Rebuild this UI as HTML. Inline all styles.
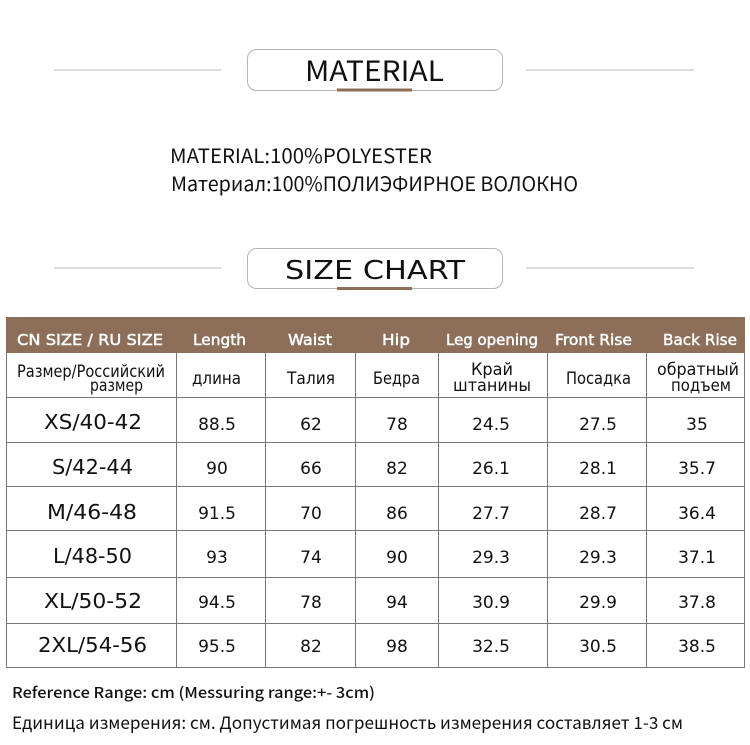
<!DOCTYPE html>
<html><head><meta charset="utf-8"><style>
html,body{margin:0;padding:0;background:#fff;}
svg{display:block;}
</style></head><body>
<svg width="750" height="745" viewBox="0 0 750 745" xmlns="http://www.w3.org/2000/svg">
<rect width="750" height="745" fill="#fff"/>
<!-- MATERIAL heading -->
<line x1="54" y1="70" x2="221" y2="70" stroke="#b8b8b8" stroke-width="1"/>
<line x1="526" y1="70" x2="694" y2="70" stroke="#b8b8b8" stroke-width="1"/>
<rect x="247.5" y="49.5" width="255" height="41" rx="9" fill="#fff" stroke="#b5b5b5" stroke-width="1"/>
<rect x="337" y="88.5" width="75" height="3" fill="#8d6e58"/>
<text x="305" y="81" font-family="Noto Sans CJK SC, DejaVu Sans, sans-serif" font-size="28" fill="#111" textLength="139" lengthAdjust="spacingAndGlyphs">MATERIAL</text>

<text x="170" y="163" font-family="Noto Sans CJK SC, Liberation Sans, sans-serif" font-size="20" fill="#111" textLength="262" lengthAdjust="spacingAndGlyphs">MATERIAL:100%POLYESTER</text>
<text x="171" y="191" font-family="Noto Sans CJK SC, Liberation Sans, sans-serif" font-size="20" fill="#111" textLength="407" lengthAdjust="spacingAndGlyphs">Материал:100%ПОЛИЭФИРНОЕ ВОЛОКНО</text>

<!-- SIZE CHART heading -->
<line x1="54" y1="268" x2="221" y2="268" stroke="#b8b8b8" stroke-width="1"/>
<line x1="526" y1="268" x2="694" y2="268" stroke="#b8b8b8" stroke-width="1"/>
<rect x="247.5" y="248.5" width="255" height="40" rx="9" fill="#fff" stroke="#b5b5b5" stroke-width="1"/>
<rect x="337" y="287" width="75" height="3" fill="#8d6e58"/>
<text x="285" y="279" font-family="DejaVu Sans, sans-serif" font-size="26" fill="#111" textLength="180" lengthAdjust="spacingAndGlyphs">SIZE CHART</text>

<!-- Table header -->
<rect x="6" y="317" width="739" height="36" fill="#8d6e58"/>
<g font-family="DejaVu Sans, sans-serif" font-size="15.5" fill="#fff">
<text x="17" y="345" textLength="146" lengthAdjust="spacingAndGlyphs">CN SIZE / RU SIZE</text>
<text x="193" y="345" textLength="53" lengthAdjust="spacingAndGlyphs">Length</text>
<text x="288" y="345" textLength="44" lengthAdjust="spacingAndGlyphs">Waist</text>
<text x="382" y="345" textLength="28" lengthAdjust="spacingAndGlyphs">Hip</text>
<text x="446" y="345" textLength="92" lengthAdjust="spacingAndGlyphs">Leg opening</text>
<text x="555" y="345" textLength="77" lengthAdjust="spacingAndGlyphs">Front Rise</text>
<text x="663" y="345" textLength="74" lengthAdjust="spacingAndGlyphs">Back Rise</text>
</g>
<g font-family="DejaVu Sans, sans-serif" font-size="15.5" fill="#fff" stroke="#fff" stroke-width="0.45">
<text x="17" y="345" textLength="146" lengthAdjust="spacingAndGlyphs">CN SIZE / RU SIZE</text>
<text x="193" y="345" textLength="53" lengthAdjust="spacingAndGlyphs">Length</text>
<text x="288" y="345" textLength="44" lengthAdjust="spacingAndGlyphs">Waist</text>
<text x="382" y="345" textLength="28" lengthAdjust="spacingAndGlyphs">Hip</text>
<text x="446" y="345" textLength="92" lengthAdjust="spacingAndGlyphs">Leg opening</text>
<text x="555" y="345" textLength="77" lengthAdjust="spacingAndGlyphs">Front Rise</text>
<text x="663" y="345" textLength="74" lengthAdjust="spacingAndGlyphs">Back Rise</text>
</g>

<!-- Table grid -->
<g stroke="#777" stroke-width="1" fill="none">
<line x1="6.5" y1="353" x2="6.5" y2="667.5"/>
<line x1="744.5" y1="353" x2="744.5" y2="667.5"/>
<line x1="176.5" y1="353" x2="176.5" y2="667"/>
<line x1="265.5" y1="353" x2="265.5" y2="667"/>
<line x1="355.5" y1="353" x2="355.5" y2="667"/>
<line x1="438.5" y1="353" x2="438.5" y2="667"/>
<line x1="547.5" y1="353" x2="547.5" y2="667"/>
<line x1="646.5" y1="353" x2="646.5" y2="667"/>
<line x1="6" y1="397.5" x2="745" y2="397.5"/>
<line x1="6" y1="442.5" x2="745" y2="442.5"/>
<line x1="6" y1="486.5" x2="745" y2="486.5"/>
<line x1="6" y1="530.5" x2="745" y2="530.5"/>
<line x1="6" y1="577.5" x2="745" y2="577.5"/>
<line x1="6" y1="623.5" x2="745" y2="623.5"/>
<line x1="6" y1="667.5" x2="745" y2="667.5"/>
</g>

<!-- Russian row -->
<g font-family="DejaVu Sans, sans-serif" font-size="16.5" fill="#111">
<text x="17" y="377" textLength="148" lengthAdjust="spacingAndGlyphs">Размер/Российский</text>
<text x="90" y="391" textLength="53" lengthAdjust="spacingAndGlyphs">размер</text>
<text x="192" y="384" textLength="49" lengthAdjust="spacingAndGlyphs">длина</text>
<text x="287" y="384" textLength="48" lengthAdjust="spacingAndGlyphs">Талия</text>
<text x="373" y="384" textLength="47" lengthAdjust="spacingAndGlyphs">Бедра</text>
<text x="471" y="375" textLength="42" lengthAdjust="spacingAndGlyphs">Край</text>
<text x="453" y="391" textLength="78" lengthAdjust="spacingAndGlyphs">штанины</text>
<text x="566" y="384" textLength="65" lengthAdjust="spacingAndGlyphs">Посадка</text>
<text x="657" y="375" textLength="82" lengthAdjust="spacingAndGlyphs">обратный</text>
<text x="671" y="391" textLength="60" lengthAdjust="spacingAndGlyphs">подъем</text>
</g>

<!-- Size column -->
<g font-family="DejaVu Sans, sans-serif" font-size="20" fill="#111">
<text x="44" y="429" textLength="98" lengthAdjust="spacingAndGlyphs">XS/40-42</text>
<text x="52" y="474" textLength="81" lengthAdjust="spacingAndGlyphs">S/42-44</text>
<text x="47" y="519" textLength="90" lengthAdjust="spacingAndGlyphs">M/46-48</text>
<text x="53" y="563" textLength="79" lengthAdjust="spacingAndGlyphs">L/48-50</text>
<text x="44" y="608" textLength="98" lengthAdjust="spacingAndGlyphs">XL/50-52</text>
<text x="38" y="652" textLength="109" lengthAdjust="spacingAndGlyphs">2XL/54-56</text>
</g>

<!-- Data -->
<g font-family="DejaVu Sans, sans-serif" font-size="17" fill="#111" text-anchor="middle">
<text x="217" y="430">88.5</text><text x="311" y="430">62</text><text x="397" y="430">78</text><text x="491" y="430">24.5</text><text x="598" y="430">27.5</text><text x="697" y="430">35</text>
<text x="217" y="474">90</text><text x="311" y="474">66</text><text x="397" y="474">82</text><text x="491" y="474">26.1</text><text x="598" y="474">28.1</text><text x="697" y="474">35.7</text>
<text x="217" y="519">91.5</text><text x="311" y="519">70</text><text x="397" y="519">86</text><text x="491" y="519">27.7</text><text x="598" y="519">28.7</text><text x="697" y="519">36.4</text>
<text x="217" y="563">93</text><text x="311" y="563">74</text><text x="397" y="563">90</text><text x="491" y="563">29.3</text><text x="598" y="563">29.3</text><text x="697" y="563">37.1</text>
<text x="217" y="608">94.5</text><text x="311" y="608">78</text><text x="397" y="608">94</text><text x="491" y="608">30.9</text><text x="598" y="608">29.9</text><text x="697" y="608">37.8</text>
<text x="217" y="652">95.5</text><text x="311" y="652">82</text><text x="397" y="652">98</text><text x="491" y="652">32.5</text><text x="598" y="652">30.5</text><text x="697" y="652">38.5</text>
</g>

<!-- Footer notes -->
<text x="12" y="698" font-family="Noto Sans CJK SC, Liberation Sans, sans-serif" font-size="15" font-weight="500" fill="#111" textLength="363" lengthAdjust="spacingAndGlyphs">Reference Range: cm (Messuring range:+- 3cm)</text>
<text x="12" y="729" font-family="Noto Sans CJK SC, Liberation Sans, sans-serif" font-size="17" fill="#111" textLength="671" lengthAdjust="spacingAndGlyphs">Единица измерения: см. Допустимая погрешность измерения составляет 1-3 см</text>
</svg>
</body></html>
